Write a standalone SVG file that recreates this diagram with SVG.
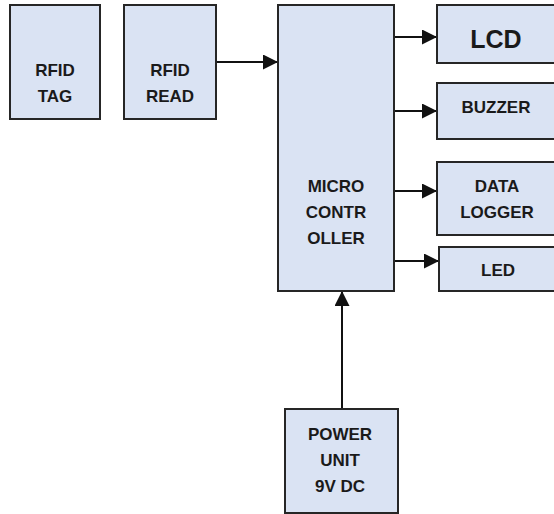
<svg xmlns="http://www.w3.org/2000/svg" width="554" height="514" viewBox="0 0 554 514">
  <style>
    .box { fill: #dae3f3; stroke: #262626; stroke-width: 2; }
    .lbl { font-family: "Liberation Sans", Arial, sans-serif; font-weight: bold; font-size: 17px; fill: #1a1a1a; text-anchor: middle; }
    .big { font-size: 25px; }
    .wire { stroke: #111; stroke-width: 2; fill: none; marker-end: url(#head); }
  </style>
  <defs>
    <marker id="head" viewBox="0 0 10 10" refX="10" refY="5" markerWidth="7.5" markerHeight="7.5" orient="auto" markerUnits="strokeWidth">
      <path d="M0,0 L10,5 L0,10 Z" fill="#111"/>
    </marker>
  </defs>
  <rect width="554" height="514" fill="#fff"/>

  <g id="connectors">
    <line class="wire" x1="216" y1="62" x2="278" y2="62"/>
    <line class="wire" x1="394" y1="37" x2="437" y2="37"/>
    <line class="wire" x1="394" y1="111" x2="437" y2="111"/>
    <line class="wire" x1="394" y1="191" x2="437" y2="191"/>
    <line class="wire" x1="394" y1="261" x2="439" y2="261"/>
    <line class="wire" x1="342" y1="409" x2="342" y2="291"/>
  </g>

  <g id="rfid-tag">
    <rect class="box" x="10" y="5" width="90" height="114"/>
    <text class="lbl" x="55" y="76">RFID</text>
    <text class="lbl" x="55" y="102">TAG</text>
  </g>

  <g id="rfid-read">
    <rect class="box" x="124" y="5" width="92" height="114"/>
    <text class="lbl" x="170" y="76">RFID</text>
    <text class="lbl" x="170" y="102">READ</text>
  </g>

  <g id="microcontroller">
    <rect class="box" x="278" y="5" width="116" height="286"/>
    <text class="lbl" x="336" y="192">MICRO</text>
    <text class="lbl" x="336" y="218">CONTR</text>
    <text class="lbl" x="336" y="244">OLLER</text>
  </g>

  <g id="lcd">
    <rect class="box" x="437" y="5" width="120" height="58"/>
    <text class="lbl big" x="496" y="48">LCD</text>
  </g>

  <g id="buzzer">
    <rect class="box" x="437" y="83" width="120" height="56"/>
    <text class="lbl" x="496" y="113">BUZZER</text>
  </g>

  <g id="data-logger">
    <rect class="box" x="437" y="162" width="120" height="73"/>
    <text class="lbl" x="497" y="192">DATA</text>
    <text class="lbl" x="497" y="218">LOGGER</text>
  </g>

  <g id="led">
    <rect class="box" x="439" y="247" width="118" height="44"/>
    <text class="lbl" x="498" y="276">LED</text>
  </g>

  <g id="power-unit">
    <rect class="box" x="285" y="409" width="113" height="104"/>
    <text class="lbl" x="340" y="440">POWER</text>
    <text class="lbl" x="340" y="466">UNIT</text>
    <text class="lbl" x="340" y="492">9V DC</text>
  </g>
</svg>
